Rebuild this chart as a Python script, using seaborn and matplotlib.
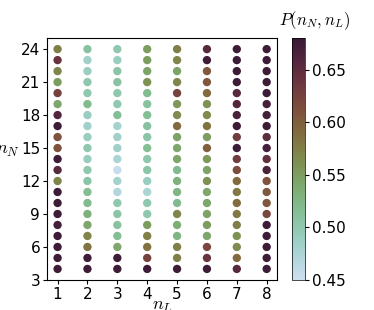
import numpy as np
import pandas as pd
import matplotlib
matplotlib.use("Agg")
import matplotlib.pyplot as plt
import seaborn as sns

plt.rcParams['mathtext.fontset'] = 'cm'

# grid of parameters
n_L = [1, 2, 3, 4, 5, 6, 7, 8]
n_N = list(range(24, 3, -1))  # 24 ... 4 (top to bottom)

# P(n_N, n_L) read column by column, from n_N = 24 down to n_N = 4
p_L1 = [0.575, 0.64, 0.57, 0.55, 0.625, 0.54, 0.66, 0.675, 0.61, 0.61, 0.675,
        0.655, 0.57, 0.675, 0.675, 0.675, 0.67, 0.675, 0.675, 0.675, 0.675]
p_L2 = [0.51, 0.485, 0.49, 0.50, 0.50, 0.52, 0.49, 0.485, 0.49, 0.50, 0.49,
        0.50, 0.505, 0.515, 0.52, 0.53, 0.54, 0.57, 0.585, 0.675, 0.675]
p_L3 = [0.50, 0.49, 0.505, 0.51, 0.50, 0.50, 0.515, 0.48, 0.485, 0.485, 0.475,
        0.455, 0.48, 0.47, 0.50, 0.505, 0.51, 0.515, 0.54, 0.675, 0.675]
p_L4 = [0.55, 0.55, 0.545, 0.56, 0.52, 0.51, 0.515, 0.51, 0.505, 0.515, 0.50,
        0.505, 0.49, 0.475, 0.50, 0.50, 0.55, 0.575, 0.585, 0.625, 0.675]
p_L5 = [0.575, 0.57, 0.545, 0.57, 0.625, 0.555, 0.565, 0.59, 0.545, 0.54, 0.54,
        0.52, 0.53, 0.525, 0.52, 0.57, 0.535, 0.525, 0.575, 0.575, 0.675]
p_L6 = [0.655, 0.675, 0.605, 0.605, 0.59, 0.56, 0.565, 0.585, 0.55, 0.60, 0.555,
        0.545, 0.56, 0.54, 0.54, 0.545, 0.55, 0.54, 0.62, 0.64, 0.675]
p_L7 = [0.675, 0.675, 0.675, 0.675, 0.655, 0.66, 0.665, 0.675, 0.63, 0.675, 0.63,
        0.615, 0.59, 0.58, 0.59, 0.58, 0.575, 0.56, 0.565, 0.59, 0.655]
p_L8 = [0.675, 0.675, 0.675, 0.675, 0.675, 0.67, 0.67, 0.675, 0.65, 0.67, 0.645,
        0.665, 0.61, 0.605, 0.605, 0.62, 0.675, 0.675, 0.675, 0.675, 0.675]

cols = [p_L1, p_L2, p_L3, p_L4, p_L5, p_L6, p_L7, p_L8]
df = pd.DataFrame([
    {"n_L": nl, "n_N": nn, "P": p}
    for nl, col in zip(n_L, cols)
    for nn, p in zip(n_N, col)
])

vmin, vmax = 0.45, 0.68
cmap = sns.cubehelix_palette(start=2.97, rot=1.05, hue=0.8, light=0.86, dark=0.15, as_cmap=True)
norm = plt.Normalize(vmin, vmax)

fig = plt.figure(figsize=(3.74, 3.10), dpi=100)
ax = fig.add_axes([0.126, 0.097, 0.615, 0.780])
cax = fig.add_axes([0.781, 0.097, 0.035, 0.780])

sns.scatterplot(data=df, x="n_L", y="n_N", hue="P", palette=cmap, hue_norm=norm,
                s=36, linewidth=0, legend=False, ax=ax)

ax.set_xticks(n_L)
ax.set_yticks(range(3, 25, 3))
ax.tick_params(labelsize=11, length=3, pad=2)
ax.set_xlabel("$n_L$", fontsize=13, labelpad=-3.5)
ax.set_ylabel("$n_N$", fontsize=13, rotation=0, labelpad=9)

sm = plt.cm.ScalarMappable(norm=norm, cmap=cmap)
cbar = fig.colorbar(sm, cax=cax)
cbar.set_ticks([0.45, 0.50, 0.55, 0.60, 0.65])
cbar.ax.tick_params(labelsize=11, length=3, pad=2)
cbar.outline.set_linewidth(0.5)
fig.text(0.842, 0.932, "$P(n_N, n_L)$", ha="center", va="center", fontsize=12)

fig.savefig("out.png", dpi=100)
